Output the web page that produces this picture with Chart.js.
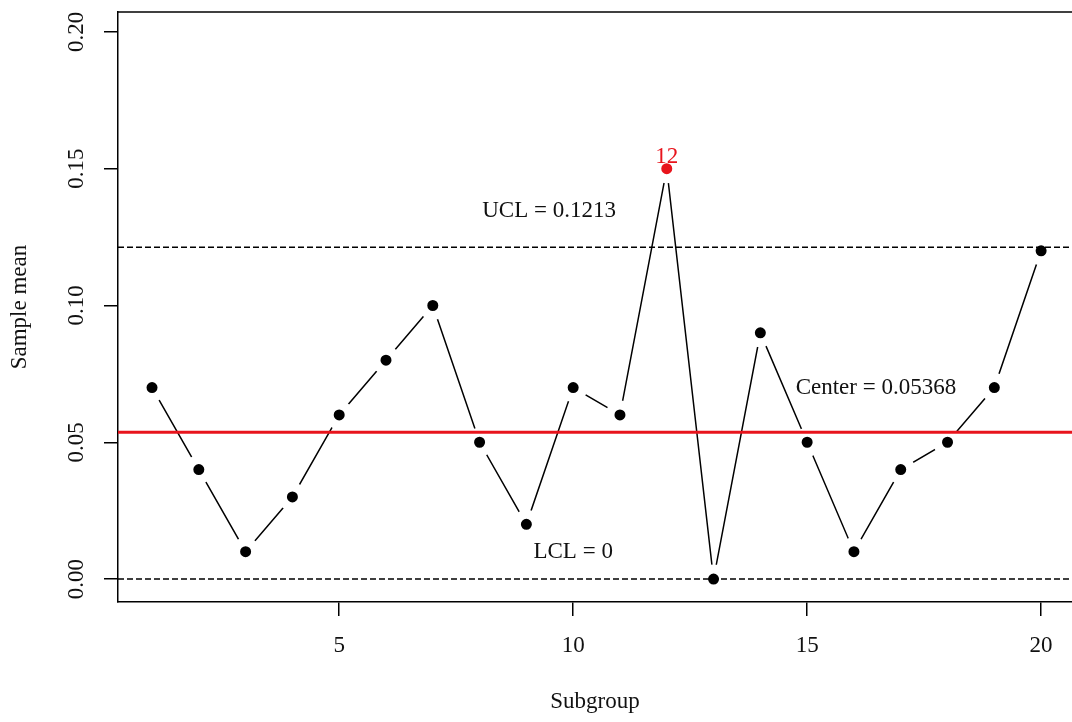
<!DOCTYPE html>
<html>
<head>
<meta charset="utf-8">
<script src="https://cdn.jsdelivr.net/npm/chart.js@4"></script>
<style>
  html, body { margin: 0; padding: 0; background: #fff; }
  #wrap { width: 1072px; height: 722px; }
</style>
</head>
<body>
<div id="wrap"><canvas id="qcc" width="1072" height="722"></canvas></div>
<script>
// x-bar control chart data
const subgroups = [1, 2, 3, 4, 5, 6, 7, 8, 9, 10, 11, 12, 13, 14, 15, 16, 17, 18, 19, 20];
const sampleMeans = [0.07, 0.04, 0.01, 0.03, 0.06, 0.08, 0.10, 0.05, 0.02, 0.07,
                     0.06, 0.15, 0.00, 0.09, 0.05, 0.01, 0.04, 0.05, 0.07, 0.12];
const centerValue = 0.05368;
const uclValue = 0.1213;
const lclValue = 0;
const xTickValues = [5, 10, 15, 20];
const yTickValues = [0.00, 0.05, 0.10, 0.15, 0.20];

// axis ranges (R style, 4% extended)
const X_MIN = 0.273, X_MAX = 20.66;
const Y_MIN = -0.0084, Y_MAX = 0.2073;

const FONT = '"Liberation Serif", "Times New Roman", serif';
const RED = '#e8141c';

const pointColors = sampleMeans.map(v => (v > uclValue || v < lclValue) ? RED : '#000');

// y tick labels (rotated), top border, limit labels
const extrasPlugin = {
  id: 'extras',
  afterDraw(chart) {
    const { ctx, chartArea, scales } = chart;
    const xs = scales.x, ys = scales.y;
    ctx.save();
    // top border of the box
    ctx.strokeStyle = '#000';
    ctx.lineWidth = 1.5;
    ctx.beginPath();
    ctx.moveTo(chartArea.left, chartArea.top);
    ctx.lineTo(chartArea.right, chartArea.top);
    ctx.stroke();

    ctx.fillStyle = '#111';
    ctx.font = '23px ' + FONT;
    ctx.textAlign = 'center';
    ctx.textBaseline = 'middle';
    yTickValues.forEach(v => {
      ctx.save();
      ctx.translate(77, ys.getPixelForValue(v));
      ctx.rotate(-Math.PI / 2);
      ctx.fillText(v.toFixed(2), 0, 0);
      ctx.restore();
    });

    // limit labels
    ctx.fillText('UCL = ' + uclValue, xs.getPixelForValue(9.485), ys.getPixelForValue(uclValue + 0.0133));
    ctx.fillText('Center = ' + centerValue, xs.getPixelForValue(16.47), ys.getPixelForValue(centerValue + 0.0161));
    ctx.fillText('LCL = ' + lclValue, xs.getPixelForValue(10), ys.getPixelForValue(lclValue + 0.0099));

    // out-of-control point numbers
    ctx.fillStyle = RED;
    sampleMeans.forEach((v, i) => {
      if (v > uclValue || v < lclValue) {
        ctx.fillText(String(subgroups[i]), xs.getPixelForValue(subgroups[i]), ys.getPixelForValue(v) - 12);
      }
    });
    ctx.restore();
  }
};

const limitLine = (val, color, width, dash) => ({
  type: 'line',
  data: [{ x: X_MIN, y: val }, { x: X_MAX, y: val }],
  borderColor: color,
  borderWidth: width,
  borderDash: dash,
  pointRadius: 0,
  order: 1
});

const noPad = s => { s.paddingLeft = 0; s.paddingRight = 0; s.paddingTop = 0; s.paddingBottom = 0; };

new Chart(document.getElementById('qcc'), {
  type: 'line',
  data: {
    datasets: [
      {
        data: subgroups.map((s, i) => ({ x: s, y: sampleMeans[i] })),
        borderColor: '#000',
        borderWidth: 1.5,
        tension: 0,
        pointRadius: 10,
        pointBorderWidth: 9,
        pointBorderColor: '#fff',
        pointBackgroundColor: pointColors,
        order: 2
      },
      limitLine(uclValue, '#000', 1.3, [6, 3]),
      limitLine(lclValue, '#000', 1.3, [6, 3]),
      limitLine(centerValue, RED, 3, [])
    ]
  },
  options: {
    responsive: false,
    animation: false,
    events: [],
    layout: { autoPadding: false, padding: { top: 12, right: 0, left: 0, bottom: 0 } },
    plugins: { legend: { display: false }, tooltip: { enabled: false } },
    scales: {
      x: {
        type: 'linear',
        min: X_MIN,
        max: X_MAX,
        afterBuildTicks: s => { s.ticks = xTickValues.map(v => ({ value: v })); },
        afterFit: s => { s.height = 120; noPad(s); },
        grid: { drawOnChartArea: false, drawTicks: true, tickLength: 14, color: '#000', lineWidth: 1.5 },
        border: { display: true, color: '#000', width: 1.5 },
        ticks: { color: '#111', font: { family: FONT, size: 23 }, padding: 16, maxRotation: 0 },
        title: { display: true, text: 'Subgroup', color: '#111', font: { family: FONT, size: 23 }, padding: { top: 0, bottom: 6 } }
      },
      y: {
        type: 'linear',
        min: Y_MIN,
        max: Y_MAX,
        afterBuildTicks: s => { s.ticks = yTickValues.map(v => ({ value: v })); },
        afterFit: s => { s.width = 118; noPad(s); },
        grid: { drawOnChartArea: false, drawTicks: true, tickLength: 14, color: '#000', lineWidth: 1.5 },
        border: { display: true, color: '#000', width: 1.5 },
        ticks: { display: false },
        title: { display: true, text: 'Sample mean', color: '#111', font: { family: FONT, size: 23 }, padding: { top: 6, bottom: 0 } }
      }
    }
  },
  plugins: [extrasPlugin]
});
</script>
</body>
</html>
